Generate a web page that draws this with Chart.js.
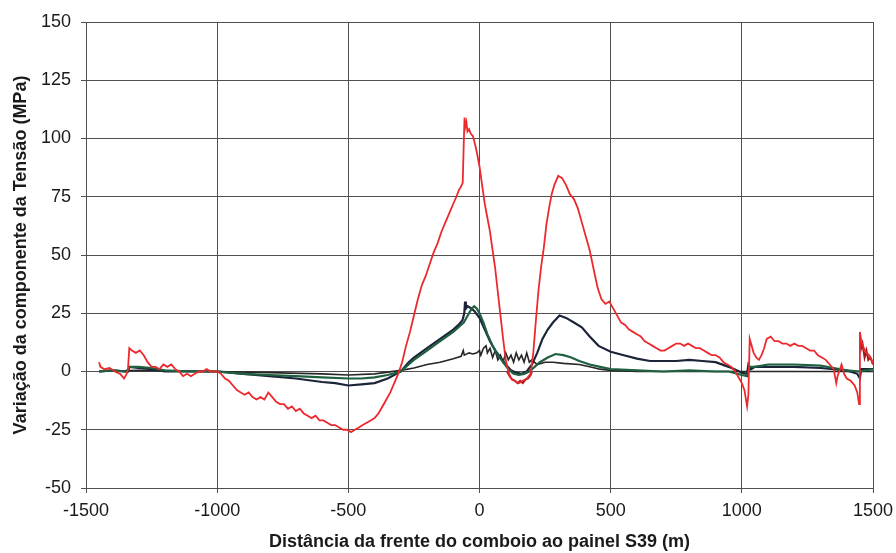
<!DOCTYPE html>
<html><head><meta charset="utf-8">
<script src="https://cdn.jsdelivr.net/npm/chart.js@4"></script>
<style>html,body{margin:0;padding:0;background:#fff}#wrap{width:896px;height:553px;position:relative}</style>
</head><body><div id="wrap"><canvas id="c" width="896" height="553"></canvas></div>
<script>
const xTicks = [-1500,-1000,-500,0,500,1000,1500];
const yTicks = [-50,-25,0,25,50,75,100,125,150];

const redX = [-1450,-1445,-1430,-1410,-1390,-1370,-1355,-1345,-1340,-1335,-1325,-1310,-1295,-1280,-1265,-1250,-1235,-1220,-1205,-1190,-1175,-1160,-1145,-1130,-1115,-1100,-1085,-1070,-1055,-1040,-1025,-1010,-1000,-985,-970,-955,-940,-925,-910,-895,-880,-865,-850,-835,-820,-805,-790,-775,-760,-745,-730,-715,-700,-685,-670,-655,-640,-625,-610,-595,-580,-565,-550,-535,-520,-505,-490,-475,-460,-445,-430,-415,-400,-385,-370,-355,-340,-325,-310,-295,-280,-265,-250,-235,-220,-205,-190,-175,-160,-145,-130,-115,-100,-88,-78,-72,-68,-64,-60,-57,-54,-50,-46,-40,-33,-25,-18,-10,0,10,20,30,40,50,60,70,80,90,100,110,120,135,150,165,180,195,205,215,225,235,245,255,265,275,285,300,315,330,345,360,375,390,405,420,435,450,465,480,495,510,525,540,555,570,585,600,615,630,645,660,675,690,705,720,735,750,765,780,795,810,825,840,855,870,885,900,915,930,945,960,975,990,1000,1010,1020,1025,1030,1035,1045,1055,1065,1075,1085,1095,1110,1125,1140,1155,1170,1185,1200,1215,1230,1245,1260,1275,1290,1305,1320,1335,1350,1360,1365,1380,1390,1400,1415,1430,1440,1447,1450,1455,1465,1475,1485,1495,1500];
const redY = [4,2,1,1.5,0,-1,-3,-1,1,10,9,8,9,7,4,2,2,1,3,2,3,1,0,-2,-1,-2,-1,0,0,1,0,0,0,-1,-3,-4,-6,-8,-9,-10,-9,-11,-12,-11,-12,-9,-11,-13,-14,-14,-16,-15,-17,-16,-18,-19,-20,-19,-21,-21,-22,-23,-23,-24,-25,-25,-26,-25,-24,-23,-22,-21,-20,-18,-15,-12,-9,-5,-1,4,11,17,24,31,37,41,46,51,55,60,64,68,72,75,78,79,80,81,98,109,105,107,103,104,102,101,98,94,88,80,72,66,60,52,44,34,24,14,5,0,-3,-4,-5,-4,-3,-1,8,22,35,45,53,63,70,76,80,84,83,80,76,74,70,64,58,52,44,36,31,29,30,27,24,21,20,18,17,16,15,13,12,11,10,9,9,10,11,12,12,11,12,11,10,10,9,8,7,7,6,4,3,2,0,-3,-5,-8,-15,-10,14,12,8,6,5,7,10,14,15,13,13,12,12,11,12,11,11,10,9,9,7,6,5,3,1,-5,-2,3,-1,-3,-4,-6,-9,-14,17,13,10,8,7,5,3];

const darkRedX = [105,115,125,135,145,155,165,175,185,195,200,null,1450,1455,1460,1468,1475,1482,1490,1500];
const darkRedY = [0,-2,-3.5,-4,-5,-4,-5,-3.5,-3,-1.5,0,null,16,10,12,6,9,5,6,3];

const greenX = [-1450,-1400,-1345,-1335,-1300,-1250,-1200,-1100,-1000,-950,-900,-800,-700,-600,-500,-450,-400,-350,-300,-270,-250,-200,-150,-100,-80,-60,-45,-30,-20,-10,0,15,30,50,70,90,110,130,150,170,190,210,230,260,290,320,350,380,420,460,500,600,700,800,900,950,1000,1020,1030,1050,1100,1200,1300,1350,1400,1450,1500];
const greenY = [0,0.5,0,2,2,1.5,0.5,0,0,-0.5,-1,-1.5,-2,-2.5,-3,-3,-2.5,-1.5,0,3,5,9,13,17,19,21,24,27,28,27,25,21,16,11,7,4,1,-1,-1.5,-1,0,2,4,6,7.5,7,6,4.5,3,2,1,0.5,0,0.5,0,0,-1.5,-2,2,2,3,3,2.5,1.5,0.5,0,1];

const navyX = [-1450,-1400,-1340,-1335,-1300,-1250,-1200,-1000,-950,-900,-800,-700,-600,-550,-500,-450,-400,-350,-300,-270,-250,-200,-150,-100,-80,-65,-58,-55,-52,-45,-30,-20,0,20,40,60,80,100,120,140,160,180,200,220,240,260,280,305,330,360,390,420,454,500,550,600,650,700,750,800,850,900,950,980,1000,1020,1025,1035,1050,1100,1200,1300,1400,1440,1450,1455,1500];
const navyY = [0,0.5,0,2,1.5,1,0,0,-0.5,-1,-2,-3,-4.5,-5,-6,-5.5,-5,-3,0,4,6,10,14,18,20,22,25,30,27,28,27,26,23,18,13,9,6,3,0.5,-0.5,-1,0,3,8,14,18,21,24,23,21,19,15,11,8.5,7,5.5,4.5,4.5,4.5,5,4.5,4,2,0.5,-0.5,-1,3,1,2,2,2,1.5,0.5,-1,-3,1,1];

const blackX = [-1450,-1300,-1000,-800,-600,-500,-400,-300,-250,-200,-150,-100,-70,-62,-58,-40,-25,-10,0,5,15,25,30,40,50,60,70,80,90,100,110,120,130,140,150,160,170,180,190,200,220,250,280,320,380,420,460,500,600,1000,1500];
const blackY = [0,0.5,0,-0.5,-1,-1.5,-1,0.5,1.5,3,4,5.5,6.5,9,7,8,7.5,8,9,7,10,11,8,10,6,9,5,7,4,8,5,7,4,8,5,7,4,8,4,5,3,4,4,3.5,3,2,1,0.5,0,0,0];

function pts(xs, ys){ return xs.map((x,i)=> x===null ? {x:NaN,y:null} : {x:x,y:ys[i]}); }

const gridCol = '#505050';
const tickFont = {family:'"Liberation Sans", Arial, sans-serif', size:18};
const titleFont = {family:'"Liberation Sans", Arial, sans-serif', size:18, weight:'bold'};

new Chart(document.getElementById('c'), {
  type:'scatter',
  data:{datasets:[
    {label:'red', data:pts(redX,redY), showLine:true, borderColor:'#ec2a2e', borderWidth:1.8, pointRadius:0, tension:0},
    {label:'darkred', data:pts(darkRedX,darkRedY), showLine:true, borderColor:'#a3171c', borderWidth:2, pointRadius:0, tension:0, spanGaps:false},
    {label:'green', data:pts(greenX,greenY), showLine:true, borderColor:'#1e6040', borderWidth:2.2, pointRadius:0, tension:0},
    {label:'navy', data:pts(navyX,navyY), showLine:true, borderColor:'#1b2438', borderWidth:2.2, pointRadius:0, tension:0},
    {label:'black', data:pts(blackX,blackY), showLine:true, borderColor:'#262626', borderWidth:1.6, pointRadius:0, tension:0}
  ]},
  options:{
    responsive:false, animation:false, devicePixelRatio:1,
    layout:{padding:{top:22,right:23,left:0,bottom:0}},
    plugins:{legend:{display:false}, tooltip:{enabled:false}},
    scales:{
      x:{type:'linear', min:-1500, max:1500,
        afterBuildTicks:(s)=>{s.ticks = xTicks.map(v=>({value:v}));},
        afterFit:(s)=>{s.height = 65; s.paddingLeft = 0; s.paddingRight = 0;},
        grid:{color:gridCol, lineWidth:1, tickLength:5, tickColor:gridCol},
        border:{color:gridCol, width:1},
        ticks:{color:'#1a1a1a', font:tickFont, padding:7, maxRotation:0, callback:(v)=>String(v)},
        title:{display:true, text:'Distância da frente do comboio ao painel S39 (m)', color:'#1a1a1a', font:titleFont, padding:{top:0,bottom:0}}
      },
      y:{type:'linear', min:-50, max:150,
        afterBuildTicks:(s)=>{s.ticks = yTicks.map(v=>({value:v}));},
        afterFit:(s)=>{s.width = 86; s.paddingTop = 0; s.paddingBottom = 0;},
        grid:{color:gridCol, lineWidth:1, tickLength:5, tickColor:gridCol},
        border:{color:gridCol, width:1},
        ticks:{color:'#1a1a1a', font:tickFont, padding:10, callback:(v)=>String(v)},
        title:{display:true, text:'Variação da componente da Tensão (MPa)', color:'#1a1a1a', font:titleFont, padding:{top:10,bottom:0}}
      }
    }
  }
});
</script></body></html>
